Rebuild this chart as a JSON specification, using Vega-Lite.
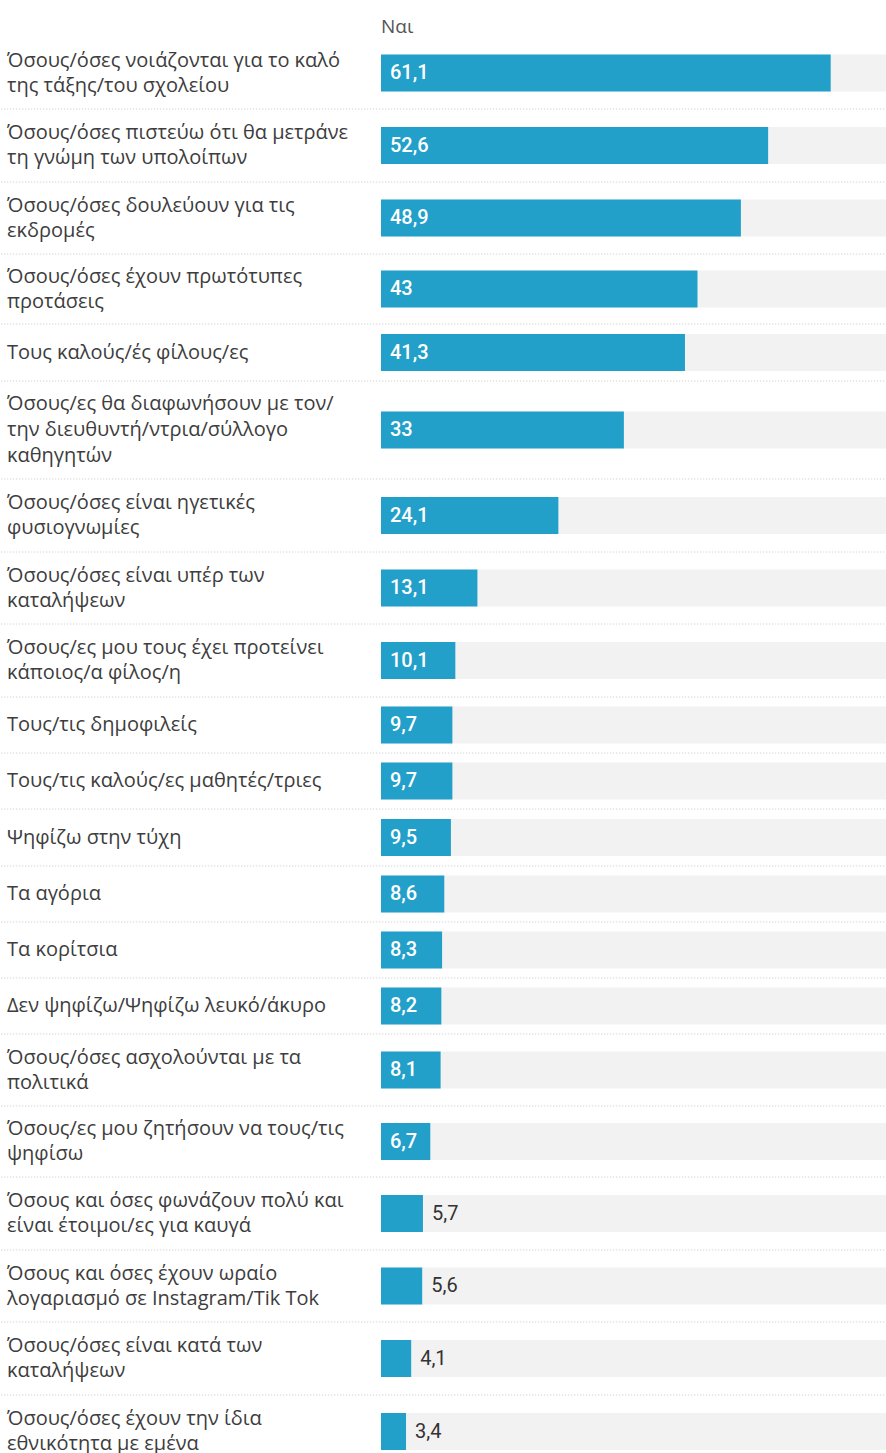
{
  "$schema": "https://vega.github.io/schema/vega-lite/v6.json",
  "padding": {"left": 0, "top": 17, "right": 0, "bottom": 0},
  "bounds": "flush",
  "spacing": 0,
  "title": {"text": "Ναι", "anchor": "start", "frame": "group", "fontSize": 19, "fontWeight": "normal", "color": "#555555", "font": "Open Sans", "offset": 0.5},
  "data": {"values": [
    {"label": "Όσους/όσες νοιάζονται για το καλό\nτης τάξης/του σχολείου", "value": 61.1},
    {"label": "Όσους/όσες πιστεύω ότι θα μετράνε\nτη γνώμη των υπολοίπων", "value": 52.6},
    {"label": "Όσους/όσες δουλεύουν για τις\nεκδρομές", "value": 48.9},
    {"label": "Όσους/όσες έχουν πρωτότυπες\nπροτάσεις", "value": 43},
    {"label": "Τους καλούς/ές φίλους/ες", "value": 41.3},
    {"label": "Όσους/ες θα διαφωνήσουν με τον/\nτην διευθυντή/ντρια/σύλλογο\nκαθηγητών", "value": 33},
    {"label": "Όσους/όσες είναι ηγετικές\nφυσιογνωμίες", "value": 24.1},
    {"label": "Όσους/όσες είναι υπέρ των\nκαταλήψεων", "value": 13.1},
    {"label": "Όσους/ες μου τους έχει προτείνει\nκάποιος/α φίλος/η", "value": 10.1},
    {"label": "Τους/τις δημοφιλείς", "value": 9.7},
    {"label": "Τους/τις καλούς/ες μαθητές/τριες", "value": 9.7},
    {"label": "Ψηφίζω στην τύχη", "value": 9.5},
    {"label": "Τα αγόρια", "value": 8.6},
    {"label": "Τα κορίτσια", "value": 8.3},
    {"label": "Δεν ψηφίζω/Ψηφίζω λευκό/άκυρο", "value": 8.2},
    {"label": "Όσους/όσες ασχολούνται με τα\nπολιτικά", "value": 8.1},
    {"label": "Όσους/ες μου ζητήσουν να τους/τις\nψηφίσω", "value": 6.7},
    {"label": "Όσους και όσες φωνάζουν πολύ και\nείναι έτοιμοι/ες για καυγά", "value": 5.7},
    {"label": "Όσους και όσες έχουν ωραίο\nλογαριασμό σε Instagram/Tik Tok", "value": 5.6},
    {"label": "Όσους/όσες είναι κατά των\nκαταλήψεων", "value": 4.1},
    {"label": "Όσους/όσες έχουν την ίδια\nεθνικότητα με εμένα", "value": 3.4}
  ]},
  "vconcat": [
    {"height": 72, "width": 506, "transform": [{"filter": {"field": "label", "equal": "Όσους/όσες νοιάζονται για το καλό\nτης τάξης/του σχολείου"}}],
     "encoding": {"y": {"field": "label", "type": "nominal", "scale": {"paddingInner": 0, "paddingOuter": 0}}},
     "layer": [
      {"mark": {"type": "bar", "height": 37, "color": "#f2f2f2"}, "encoding": {"x": {"datum": 68.75, "type": "quantitative", "scale": {"domain": [0, 68.75], "nice": false}}}},
      {"mark": {"type": "bar", "height": 37, "color": "#22a0ca"}, "encoding": {"x": {"field": "value", "type": "quantitative"}}},
      {"transform": [{"filter": "datum.value >= 6"}], "mark": {"type": "text", "align": "left", "dx": 9, "fontSize": 20, "fontWeight": 500, "color": "#ffffff"}, "encoding": {"x": {"datum": 0, "type": "quantitative"}, "text": {"field": "value", "type": "quantitative", "format": "~g"}}},
      {"transform": [{"filter": "datum.value < 6"}], "mark": {"type": "text", "align": "left", "dx": 9, "fontSize": 20, "color": "#333333"}, "encoding": {"x": {"field": "value", "type": "quantitative"}, "text": {"field": "value", "type": "quantitative", "format": "~g"}}},
      {"mark": {"type": "text", "align": "left", "dx": -374, "dy": -12.5, "font": "Open Sans", "fontSize": 20, "lineHeight": 25, "lineBreak": "\n", "color": "#3d3d3d"}, "encoding": {"x": {"datum": 0, "type": "quantitative"}, "text": {"field": "label"}}},
      {"mark": {"type": "rule", "color": "#c8c8c8", "strokeDash": [1, 2], "strokeWidth": 1}, "encoding": {"x": {"datum": -51.6, "type": "quantitative"}, "x2": {"datum": 68.75}, "y": {"field": "label", "type": "nominal", "bandPosition": 1}}}
     ]},
    {"height": 73, "width": 506, "transform": [{"filter": {"field": "label", "equal": "Όσους/όσες πιστεύω ότι θα μετράνε\nτη γνώμη των υπολοίπων"}}],
     "encoding": {"y": {"field": "label", "type": "nominal", "scale": {"paddingInner": 0, "paddingOuter": 0}}},
     "layer": [
      {"mark": {"type": "bar", "height": 37, "color": "#f2f2f2"}, "encoding": {"x": {"datum": 68.75, "type": "quantitative", "scale": {"domain": [0, 68.75], "nice": false}}}},
      {"mark": {"type": "bar", "height": 37, "color": "#22a0ca"}, "encoding": {"x": {"field": "value", "type": "quantitative"}}},
      {"transform": [{"filter": "datum.value >= 6"}], "mark": {"type": "text", "align": "left", "dx": 9, "fontSize": 20, "fontWeight": 500, "color": "#ffffff"}, "encoding": {"x": {"datum": 0, "type": "quantitative"}, "text": {"field": "value", "type": "quantitative", "format": "~g"}}},
      {"transform": [{"filter": "datum.value < 6"}], "mark": {"type": "text", "align": "left", "dx": 9, "fontSize": 20, "color": "#333333"}, "encoding": {"x": {"field": "value", "type": "quantitative"}, "text": {"field": "value", "type": "quantitative", "format": "~g"}}},
      {"mark": {"type": "text", "align": "left", "dx": -374, "dy": -12.5, "font": "Open Sans", "fontSize": 20, "lineHeight": 25, "lineBreak": "\n", "color": "#3d3d3d"}, "encoding": {"x": {"datum": 0, "type": "quantitative"}, "text": {"field": "label"}}},
      {"mark": {"type": "rule", "color": "#c8c8c8", "strokeDash": [1, 2], "strokeWidth": 1}, "encoding": {"x": {"datum": -51.6, "type": "quantitative"}, "x2": {"datum": 68.75}, "y": {"field": "label", "type": "nominal", "bandPosition": 1}}}
     ]},
    {"height": 72, "width": 506, "transform": [{"filter": {"field": "label", "equal": "Όσους/όσες δουλεύουν για τις\nεκδρομές"}}],
     "encoding": {"y": {"field": "label", "type": "nominal", "scale": {"paddingInner": 0, "paddingOuter": 0}}},
     "layer": [
      {"mark": {"type": "bar", "height": 37, "color": "#f2f2f2"}, "encoding": {"x": {"datum": 68.75, "type": "quantitative", "scale": {"domain": [0, 68.75], "nice": false}}}},
      {"mark": {"type": "bar", "height": 37, "color": "#22a0ca"}, "encoding": {"x": {"field": "value", "type": "quantitative"}}},
      {"transform": [{"filter": "datum.value >= 6"}], "mark": {"type": "text", "align": "left", "dx": 9, "fontSize": 20, "fontWeight": 500, "color": "#ffffff"}, "encoding": {"x": {"datum": 0, "type": "quantitative"}, "text": {"field": "value", "type": "quantitative", "format": "~g"}}},
      {"transform": [{"filter": "datum.value < 6"}], "mark": {"type": "text", "align": "left", "dx": 9, "fontSize": 20, "color": "#333333"}, "encoding": {"x": {"field": "value", "type": "quantitative"}, "text": {"field": "value", "type": "quantitative", "format": "~g"}}},
      {"mark": {"type": "text", "align": "left", "dx": -374, "dy": -12.5, "font": "Open Sans", "fontSize": 20, "lineHeight": 25, "lineBreak": "\n", "color": "#3d3d3d"}, "encoding": {"x": {"datum": 0, "type": "quantitative"}, "text": {"field": "label"}}},
      {"mark": {"type": "rule", "color": "#c8c8c8", "strokeDash": [1, 2], "strokeWidth": 1}, "encoding": {"x": {"datum": -51.6, "type": "quantitative"}, "x2": {"datum": 68.75}, "y": {"field": "label", "type": "nominal", "bandPosition": 1}}}
     ]},
    {"height": 70, "width": 506, "transform": [{"filter": {"field": "label", "equal": "Όσους/όσες έχουν πρωτότυπες\nπροτάσεις"}}],
     "encoding": {"y": {"field": "label", "type": "nominal", "scale": {"paddingInner": 0, "paddingOuter": 0}}},
     "layer": [
      {"mark": {"type": "bar", "height": 37, "color": "#f2f2f2"}, "encoding": {"x": {"datum": 68.75, "type": "quantitative", "scale": {"domain": [0, 68.75], "nice": false}}}},
      {"mark": {"type": "bar", "height": 37, "color": "#22a0ca"}, "encoding": {"x": {"field": "value", "type": "quantitative"}}},
      {"transform": [{"filter": "datum.value >= 6"}], "mark": {"type": "text", "align": "left", "dx": 9, "fontSize": 20, "fontWeight": 500, "color": "#ffffff"}, "encoding": {"x": {"datum": 0, "type": "quantitative"}, "text": {"field": "value", "type": "quantitative", "format": "~g"}}},
      {"transform": [{"filter": "datum.value < 6"}], "mark": {"type": "text", "align": "left", "dx": 9, "fontSize": 20, "color": "#333333"}, "encoding": {"x": {"field": "value", "type": "quantitative"}, "text": {"field": "value", "type": "quantitative", "format": "~g"}}},
      {"mark": {"type": "text", "align": "left", "dx": -374, "dy": -12.5, "font": "Open Sans", "fontSize": 20, "lineHeight": 25, "lineBreak": "\n", "color": "#3d3d3d"}, "encoding": {"x": {"datum": 0, "type": "quantitative"}, "text": {"field": "label"}}},
      {"mark": {"type": "rule", "color": "#c8c8c8", "strokeDash": [1, 2], "strokeWidth": 1}, "encoding": {"x": {"datum": -51.6, "type": "quantitative"}, "x2": {"datum": 68.75}, "y": {"field": "label", "type": "nominal", "bandPosition": 1}}}
     ]},
    {"height": 57, "width": 506, "transform": [{"filter": {"field": "label", "equal": "Τους καλούς/ές φίλους/ες"}}],
     "encoding": {"y": {"field": "label", "type": "nominal", "scale": {"paddingInner": 0, "paddingOuter": 0}}},
     "layer": [
      {"mark": {"type": "bar", "height": 37, "color": "#f2f2f2"}, "encoding": {"x": {"datum": 68.75, "type": "quantitative", "scale": {"domain": [0, 68.75], "nice": false}}}},
      {"mark": {"type": "bar", "height": 37, "color": "#22a0ca"}, "encoding": {"x": {"field": "value", "type": "quantitative"}}},
      {"transform": [{"filter": "datum.value >= 6"}], "mark": {"type": "text", "align": "left", "dx": 9, "fontSize": 20, "fontWeight": 500, "color": "#ffffff"}, "encoding": {"x": {"datum": 0, "type": "quantitative"}, "text": {"field": "value", "type": "quantitative", "format": "~g"}}},
      {"transform": [{"filter": "datum.value < 6"}], "mark": {"type": "text", "align": "left", "dx": 9, "fontSize": 20, "color": "#333333"}, "encoding": {"x": {"field": "value", "type": "quantitative"}, "text": {"field": "value", "type": "quantitative", "format": "~g"}}},
      {"mark": {"type": "text", "align": "left", "dx": -374, "font": "Open Sans", "fontSize": 20, "lineHeight": 25, "lineBreak": "\n", "color": "#3d3d3d"}, "encoding": {"x": {"datum": 0, "type": "quantitative"}, "text": {"field": "label"}}},
      {"mark": {"type": "rule", "color": "#c8c8c8", "strokeDash": [1, 2], "strokeWidth": 1}, "encoding": {"x": {"datum": -51.6, "type": "quantitative"}, "x2": {"datum": 68.75}, "y": {"field": "label", "type": "nominal", "bandPosition": 1}}}
     ]},
    {"height": 98, "width": 506, "transform": [{"filter": {"field": "label", "equal": "Όσους/ες θα διαφωνήσουν με τον/\nτην διευθυντή/ντρια/σύλλογο\nκαθηγητών"}}],
     "encoding": {"y": {"field": "label", "type": "nominal", "scale": {"paddingInner": 0, "paddingOuter": 0}}},
     "layer": [
      {"mark": {"type": "bar", "height": 37, "color": "#f2f2f2"}, "encoding": {"x": {"datum": 68.75, "type": "quantitative", "scale": {"domain": [0, 68.75], "nice": false}}}},
      {"mark": {"type": "bar", "height": 37, "color": "#22a0ca"}, "encoding": {"x": {"field": "value", "type": "quantitative"}}},
      {"transform": [{"filter": "datum.value >= 6"}], "mark": {"type": "text", "align": "left", "dx": 9, "fontSize": 20, "fontWeight": 500, "color": "#ffffff"}, "encoding": {"x": {"datum": 0, "type": "quantitative"}, "text": {"field": "value", "type": "quantitative", "format": "~g"}}},
      {"transform": [{"filter": "datum.value < 6"}], "mark": {"type": "text", "align": "left", "dx": 9, "fontSize": 20, "color": "#333333"}, "encoding": {"x": {"field": "value", "type": "quantitative"}, "text": {"field": "value", "type": "quantitative", "format": "~g"}}},
      {"mark": {"type": "text", "align": "left", "dx": -374, "dy": -26, "font": "Open Sans", "fontSize": 20, "lineHeight": 26, "lineBreak": "\n", "color": "#3d3d3d"}, "encoding": {"x": {"datum": 0, "type": "quantitative"}, "text": {"field": "label"}}},
      {"mark": {"type": "rule", "color": "#c8c8c8", "strokeDash": [1, 2], "strokeWidth": 1}, "encoding": {"x": {"datum": -51.6, "type": "quantitative"}, "x2": {"datum": 68.75}, "y": {"field": "label", "type": "nominal", "bandPosition": 1}}}
     ]},
    {"height": 73, "width": 506, "transform": [{"filter": {"field": "label", "equal": "Όσους/όσες είναι ηγετικές\nφυσιογνωμίες"}}],
     "encoding": {"y": {"field": "label", "type": "nominal", "scale": {"paddingInner": 0, "paddingOuter": 0}}},
     "layer": [
      {"mark": {"type": "bar", "height": 37, "color": "#f2f2f2"}, "encoding": {"x": {"datum": 68.75, "type": "quantitative", "scale": {"domain": [0, 68.75], "nice": false}}}},
      {"mark": {"type": "bar", "height": 37, "color": "#22a0ca"}, "encoding": {"x": {"field": "value", "type": "quantitative"}}},
      {"transform": [{"filter": "datum.value >= 6"}], "mark": {"type": "text", "align": "left", "dx": 9, "fontSize": 20, "fontWeight": 500, "color": "#ffffff"}, "encoding": {"x": {"datum": 0, "type": "quantitative"}, "text": {"field": "value", "type": "quantitative", "format": "~g"}}},
      {"transform": [{"filter": "datum.value < 6"}], "mark": {"type": "text", "align": "left", "dx": 9, "fontSize": 20, "color": "#333333"}, "encoding": {"x": {"field": "value", "type": "quantitative"}, "text": {"field": "value", "type": "quantitative", "format": "~g"}}},
      {"mark": {"type": "text", "align": "left", "dx": -374, "dy": -12.5, "font": "Open Sans", "fontSize": 20, "lineHeight": 25, "lineBreak": "\n", "color": "#3d3d3d"}, "encoding": {"x": {"datum": 0, "type": "quantitative"}, "text": {"field": "label"}}},
      {"mark": {"type": "rule", "color": "#c8c8c8", "strokeDash": [1, 2], "strokeWidth": 1}, "encoding": {"x": {"datum": -51.6, "type": "quantitative"}, "x2": {"datum": 68.75}, "y": {"field": "label", "type": "nominal", "bandPosition": 1}}}
     ]},
    {"height": 72, "width": 506, "transform": [{"filter": {"field": "label", "equal": "Όσους/όσες είναι υπέρ των\nκαταλήψεων"}}],
     "encoding": {"y": {"field": "label", "type": "nominal", "scale": {"paddingInner": 0, "paddingOuter": 0}}},
     "layer": [
      {"mark": {"type": "bar", "height": 37, "color": "#f2f2f2"}, "encoding": {"x": {"datum": 68.75, "type": "quantitative", "scale": {"domain": [0, 68.75], "nice": false}}}},
      {"mark": {"type": "bar", "height": 37, "color": "#22a0ca"}, "encoding": {"x": {"field": "value", "type": "quantitative"}}},
      {"transform": [{"filter": "datum.value >= 6"}], "mark": {"type": "text", "align": "left", "dx": 9, "fontSize": 20, "fontWeight": 500, "color": "#ffffff"}, "encoding": {"x": {"datum": 0, "type": "quantitative"}, "text": {"field": "value", "type": "quantitative", "format": "~g"}}},
      {"transform": [{"filter": "datum.value < 6"}], "mark": {"type": "text", "align": "left", "dx": 9, "fontSize": 20, "color": "#333333"}, "encoding": {"x": {"field": "value", "type": "quantitative"}, "text": {"field": "value", "type": "quantitative", "format": "~g"}}},
      {"mark": {"type": "text", "align": "left", "dx": -374, "dy": -12.5, "font": "Open Sans", "fontSize": 20, "lineHeight": 25, "lineBreak": "\n", "color": "#3d3d3d"}, "encoding": {"x": {"datum": 0, "type": "quantitative"}, "text": {"field": "label"}}},
      {"mark": {"type": "rule", "color": "#c8c8c8", "strokeDash": [1, 2], "strokeWidth": 1}, "encoding": {"x": {"datum": -51.6, "type": "quantitative"}, "x2": {"datum": 68.75}, "y": {"field": "label", "type": "nominal", "bandPosition": 1}}}
     ]},
    {"height": 73, "width": 506, "transform": [{"filter": {"field": "label", "equal": "Όσους/ες μου τους έχει προτείνει\nκάποιος/α φίλος/η"}}],
     "encoding": {"y": {"field": "label", "type": "nominal", "scale": {"paddingInner": 0, "paddingOuter": 0}}},
     "layer": [
      {"mark": {"type": "bar", "height": 37, "color": "#f2f2f2"}, "encoding": {"x": {"datum": 68.75, "type": "quantitative", "scale": {"domain": [0, 68.75], "nice": false}}}},
      {"mark": {"type": "bar", "height": 37, "color": "#22a0ca"}, "encoding": {"x": {"field": "value", "type": "quantitative"}}},
      {"transform": [{"filter": "datum.value >= 6"}], "mark": {"type": "text", "align": "left", "dx": 9, "fontSize": 20, "fontWeight": 500, "color": "#ffffff"}, "encoding": {"x": {"datum": 0, "type": "quantitative"}, "text": {"field": "value", "type": "quantitative", "format": "~g"}}},
      {"transform": [{"filter": "datum.value < 6"}], "mark": {"type": "text", "align": "left", "dx": 9, "fontSize": 20, "color": "#333333"}, "encoding": {"x": {"field": "value", "type": "quantitative"}, "text": {"field": "value", "type": "quantitative", "format": "~g"}}},
      {"mark": {"type": "text", "align": "left", "dx": -374, "dy": -12.5, "font": "Open Sans", "fontSize": 20, "lineHeight": 25, "lineBreak": "\n", "color": "#3d3d3d"}, "encoding": {"x": {"datum": 0, "type": "quantitative"}, "text": {"field": "label"}}},
      {"mark": {"type": "rule", "color": "#c8c8c8", "strokeDash": [1, 2], "strokeWidth": 1}, "encoding": {"x": {"datum": -51.6, "type": "quantitative"}, "x2": {"datum": 68.75}, "y": {"field": "label", "type": "nominal", "bandPosition": 1}}}
     ]},
    {"height": 56, "width": 506, "transform": [{"filter": {"field": "label", "equal": "Τους/τις δημοφιλείς"}}],
     "encoding": {"y": {"field": "label", "type": "nominal", "scale": {"paddingInner": 0, "paddingOuter": 0}}},
     "layer": [
      {"mark": {"type": "bar", "height": 37, "color": "#f2f2f2"}, "encoding": {"x": {"datum": 68.75, "type": "quantitative", "scale": {"domain": [0, 68.75], "nice": false}}}},
      {"mark": {"type": "bar", "height": 37, "color": "#22a0ca"}, "encoding": {"x": {"field": "value", "type": "quantitative"}}},
      {"transform": [{"filter": "datum.value >= 6"}], "mark": {"type": "text", "align": "left", "dx": 9, "fontSize": 20, "fontWeight": 500, "color": "#ffffff"}, "encoding": {"x": {"datum": 0, "type": "quantitative"}, "text": {"field": "value", "type": "quantitative", "format": "~g"}}},
      {"transform": [{"filter": "datum.value < 6"}], "mark": {"type": "text", "align": "left", "dx": 9, "fontSize": 20, "color": "#333333"}, "encoding": {"x": {"field": "value", "type": "quantitative"}, "text": {"field": "value", "type": "quantitative", "format": "~g"}}},
      {"mark": {"type": "text", "align": "left", "dx": -374, "font": "Open Sans", "fontSize": 20, "lineHeight": 25, "lineBreak": "\n", "color": "#3d3d3d"}, "encoding": {"x": {"datum": 0, "type": "quantitative"}, "text": {"field": "label"}}},
      {"mark": {"type": "rule", "color": "#c8c8c8", "strokeDash": [1, 2], "strokeWidth": 1}, "encoding": {"x": {"datum": -51.6, "type": "quantitative"}, "x2": {"datum": 68.75}, "y": {"field": "label", "type": "nominal", "bandPosition": 1}}}
     ]},
    {"height": 56, "width": 506, "transform": [{"filter": {"field": "label", "equal": "Τους/τις καλούς/ες μαθητές/τριες"}}],
     "encoding": {"y": {"field": "label", "type": "nominal", "scale": {"paddingInner": 0, "paddingOuter": 0}}},
     "layer": [
      {"mark": {"type": "bar", "height": 37, "color": "#f2f2f2"}, "encoding": {"x": {"datum": 68.75, "type": "quantitative", "scale": {"domain": [0, 68.75], "nice": false}}}},
      {"mark": {"type": "bar", "height": 37, "color": "#22a0ca"}, "encoding": {"x": {"field": "value", "type": "quantitative"}}},
      {"transform": [{"filter": "datum.value >= 6"}], "mark": {"type": "text", "align": "left", "dx": 9, "fontSize": 20, "fontWeight": 500, "color": "#ffffff"}, "encoding": {"x": {"datum": 0, "type": "quantitative"}, "text": {"field": "value", "type": "quantitative", "format": "~g"}}},
      {"transform": [{"filter": "datum.value < 6"}], "mark": {"type": "text", "align": "left", "dx": 9, "fontSize": 20, "color": "#333333"}, "encoding": {"x": {"field": "value", "type": "quantitative"}, "text": {"field": "value", "type": "quantitative", "format": "~g"}}},
      {"mark": {"type": "text", "align": "left", "dx": -374, "font": "Open Sans", "fontSize": 20, "lineHeight": 25, "lineBreak": "\n", "color": "#3d3d3d"}, "encoding": {"x": {"datum": 0, "type": "quantitative"}, "text": {"field": "label"}}},
      {"mark": {"type": "rule", "color": "#c8c8c8", "strokeDash": [1, 2], "strokeWidth": 1}, "encoding": {"x": {"datum": -51.6, "type": "quantitative"}, "x2": {"datum": 68.75}, "y": {"field": "label", "type": "nominal", "bandPosition": 1}}}
     ]},
    {"height": 57, "width": 506, "transform": [{"filter": {"field": "label", "equal": "Ψηφίζω στην τύχη"}}],
     "encoding": {"y": {"field": "label", "type": "nominal", "scale": {"paddingInner": 0, "paddingOuter": 0}}},
     "layer": [
      {"mark": {"type": "bar", "height": 37, "color": "#f2f2f2"}, "encoding": {"x": {"datum": 68.75, "type": "quantitative", "scale": {"domain": [0, 68.75], "nice": false}}}},
      {"mark": {"type": "bar", "height": 37, "color": "#22a0ca"}, "encoding": {"x": {"field": "value", "type": "quantitative"}}},
      {"transform": [{"filter": "datum.value >= 6"}], "mark": {"type": "text", "align": "left", "dx": 9, "fontSize": 20, "fontWeight": 500, "color": "#ffffff"}, "encoding": {"x": {"datum": 0, "type": "quantitative"}, "text": {"field": "value", "type": "quantitative", "format": "~g"}}},
      {"transform": [{"filter": "datum.value < 6"}], "mark": {"type": "text", "align": "left", "dx": 9, "fontSize": 20, "color": "#333333"}, "encoding": {"x": {"field": "value", "type": "quantitative"}, "text": {"field": "value", "type": "quantitative", "format": "~g"}}},
      {"mark": {"type": "text", "align": "left", "dx": -374, "font": "Open Sans", "fontSize": 20, "lineHeight": 25, "lineBreak": "\n", "color": "#3d3d3d"}, "encoding": {"x": {"datum": 0, "type": "quantitative"}, "text": {"field": "label"}}},
      {"mark": {"type": "rule", "color": "#c8c8c8", "strokeDash": [1, 2], "strokeWidth": 1}, "encoding": {"x": {"datum": -51.6, "type": "quantitative"}, "x2": {"datum": 68.75}, "y": {"field": "label", "type": "nominal", "bandPosition": 1}}}
     ]},
    {"height": 56, "width": 506, "transform": [{"filter": {"field": "label", "equal": "Τα αγόρια"}}],
     "encoding": {"y": {"field": "label", "type": "nominal", "scale": {"paddingInner": 0, "paddingOuter": 0}}},
     "layer": [
      {"mark": {"type": "bar", "height": 37, "color": "#f2f2f2"}, "encoding": {"x": {"datum": 68.75, "type": "quantitative", "scale": {"domain": [0, 68.75], "nice": false}}}},
      {"mark": {"type": "bar", "height": 37, "color": "#22a0ca"}, "encoding": {"x": {"field": "value", "type": "quantitative"}}},
      {"transform": [{"filter": "datum.value >= 6"}], "mark": {"type": "text", "align": "left", "dx": 9, "fontSize": 20, "fontWeight": 500, "color": "#ffffff"}, "encoding": {"x": {"datum": 0, "type": "quantitative"}, "text": {"field": "value", "type": "quantitative", "format": "~g"}}},
      {"transform": [{"filter": "datum.value < 6"}], "mark": {"type": "text", "align": "left", "dx": 9, "fontSize": 20, "color": "#333333"}, "encoding": {"x": {"field": "value", "type": "quantitative"}, "text": {"field": "value", "type": "quantitative", "format": "~g"}}},
      {"mark": {"type": "text", "align": "left", "dx": -374, "font": "Open Sans", "fontSize": 20, "lineHeight": 25, "lineBreak": "\n", "color": "#3d3d3d"}, "encoding": {"x": {"datum": 0, "type": "quantitative"}, "text": {"field": "label"}}},
      {"mark": {"type": "rule", "color": "#c8c8c8", "strokeDash": [1, 2], "strokeWidth": 1}, "encoding": {"x": {"datum": -51.6, "type": "quantitative"}, "x2": {"datum": 68.75}, "y": {"field": "label", "type": "nominal", "bandPosition": 1}}}
     ]},
    {"height": 56, "width": 506, "transform": [{"filter": {"field": "label", "equal": "Τα κορίτσια"}}],
     "encoding": {"y": {"field": "label", "type": "nominal", "scale": {"paddingInner": 0, "paddingOuter": 0}}},
     "layer": [
      {"mark": {"type": "bar", "height": 37, "color": "#f2f2f2"}, "encoding": {"x": {"datum": 68.75, "type": "quantitative", "scale": {"domain": [0, 68.75], "nice": false}}}},
      {"mark": {"type": "bar", "height": 37, "color": "#22a0ca"}, "encoding": {"x": {"field": "value", "type": "quantitative"}}},
      {"transform": [{"filter": "datum.value >= 6"}], "mark": {"type": "text", "align": "left", "dx": 9, "fontSize": 20, "fontWeight": 500, "color": "#ffffff"}, "encoding": {"x": {"datum": 0, "type": "quantitative"}, "text": {"field": "value", "type": "quantitative", "format": "~g"}}},
      {"transform": [{"filter": "datum.value < 6"}], "mark": {"type": "text", "align": "left", "dx": 9, "fontSize": 20, "color": "#333333"}, "encoding": {"x": {"field": "value", "type": "quantitative"}, "text": {"field": "value", "type": "quantitative", "format": "~g"}}},
      {"mark": {"type": "text", "align": "left", "dx": -374, "font": "Open Sans", "fontSize": 20, "lineHeight": 25, "lineBreak": "\n", "color": "#3d3d3d"}, "encoding": {"x": {"datum": 0, "type": "quantitative"}, "text": {"field": "label"}}},
      {"mark": {"type": "rule", "color": "#c8c8c8", "strokeDash": [1, 2], "strokeWidth": 1}, "encoding": {"x": {"datum": -51.6, "type": "quantitative"}, "x2": {"datum": 68.75}, "y": {"field": "label", "type": "nominal", "bandPosition": 1}}}
     ]},
    {"height": 56, "width": 506, "transform": [{"filter": {"field": "label", "equal": "Δεν ψηφίζω/Ψηφίζω λευκό/άκυρο"}}],
     "encoding": {"y": {"field": "label", "type": "nominal", "scale": {"paddingInner": 0, "paddingOuter": 0}}},
     "layer": [
      {"mark": {"type": "bar", "height": 37, "color": "#f2f2f2"}, "encoding": {"x": {"datum": 68.75, "type": "quantitative", "scale": {"domain": [0, 68.75], "nice": false}}}},
      {"mark": {"type": "bar", "height": 37, "color": "#22a0ca"}, "encoding": {"x": {"field": "value", "type": "quantitative"}}},
      {"transform": [{"filter": "datum.value >= 6"}], "mark": {"type": "text", "align": "left", "dx": 9, "fontSize": 20, "fontWeight": 500, "color": "#ffffff"}, "encoding": {"x": {"datum": 0, "type": "quantitative"}, "text": {"field": "value", "type": "quantitative", "format": "~g"}}},
      {"transform": [{"filter": "datum.value < 6"}], "mark": {"type": "text", "align": "left", "dx": 9, "fontSize": 20, "color": "#333333"}, "encoding": {"x": {"field": "value", "type": "quantitative"}, "text": {"field": "value", "type": "quantitative", "format": "~g"}}},
      {"mark": {"type": "text", "align": "left", "dx": -374, "font": "Open Sans", "fontSize": 20, "lineHeight": 25, "lineBreak": "\n", "color": "#3d3d3d"}, "encoding": {"x": {"datum": 0, "type": "quantitative"}, "text": {"field": "label"}}},
      {"mark": {"type": "rule", "color": "#c8c8c8", "strokeDash": [1, 2], "strokeWidth": 1}, "encoding": {"x": {"datum": -51.6, "type": "quantitative"}, "x2": {"datum": 68.75}, "y": {"field": "label", "type": "nominal", "bandPosition": 1}}}
     ]},
    {"height": 72, "width": 506, "transform": [{"filter": {"field": "label", "equal": "Όσους/όσες ασχολούνται με τα\nπολιτικά"}}],
     "encoding": {"y": {"field": "label", "type": "nominal", "scale": {"paddingInner": 0, "paddingOuter": 0}}},
     "layer": [
      {"mark": {"type": "bar", "height": 37, "color": "#f2f2f2"}, "encoding": {"x": {"datum": 68.75, "type": "quantitative", "scale": {"domain": [0, 68.75], "nice": false}}}},
      {"mark": {"type": "bar", "height": 37, "color": "#22a0ca"}, "encoding": {"x": {"field": "value", "type": "quantitative"}}},
      {"transform": [{"filter": "datum.value >= 6"}], "mark": {"type": "text", "align": "left", "dx": 9, "fontSize": 20, "fontWeight": 500, "color": "#ffffff"}, "encoding": {"x": {"datum": 0, "type": "quantitative"}, "text": {"field": "value", "type": "quantitative", "format": "~g"}}},
      {"transform": [{"filter": "datum.value < 6"}], "mark": {"type": "text", "align": "left", "dx": 9, "fontSize": 20, "color": "#333333"}, "encoding": {"x": {"field": "value", "type": "quantitative"}, "text": {"field": "value", "type": "quantitative", "format": "~g"}}},
      {"mark": {"type": "text", "align": "left", "dx": -374, "dy": -12.5, "font": "Open Sans", "fontSize": 20, "lineHeight": 25, "lineBreak": "\n", "color": "#3d3d3d"}, "encoding": {"x": {"datum": 0, "type": "quantitative"}, "text": {"field": "label"}}},
      {"mark": {"type": "rule", "color": "#c8c8c8", "strokeDash": [1, 2], "strokeWidth": 1}, "encoding": {"x": {"datum": -51.6, "type": "quantitative"}, "x2": {"datum": 68.75}, "y": {"field": "label", "type": "nominal", "bandPosition": 1}}}
     ]},
    {"height": 71, "width": 506, "transform": [{"filter": {"field": "label", "equal": "Όσους/ες μου ζητήσουν να τους/τις\nψηφίσω"}}],
     "encoding": {"y": {"field": "label", "type": "nominal", "scale": {"paddingInner": 0, "paddingOuter": 0}}},
     "layer": [
      {"mark": {"type": "bar", "height": 37, "color": "#f2f2f2"}, "encoding": {"x": {"datum": 68.75, "type": "quantitative", "scale": {"domain": [0, 68.75], "nice": false}}}},
      {"mark": {"type": "bar", "height": 37, "color": "#22a0ca"}, "encoding": {"x": {"field": "value", "type": "quantitative"}}},
      {"transform": [{"filter": "datum.value >= 6"}], "mark": {"type": "text", "align": "left", "dx": 9, "fontSize": 20, "fontWeight": 500, "color": "#ffffff"}, "encoding": {"x": {"datum": 0, "type": "quantitative"}, "text": {"field": "value", "type": "quantitative", "format": "~g"}}},
      {"transform": [{"filter": "datum.value < 6"}], "mark": {"type": "text", "align": "left", "dx": 9, "fontSize": 20, "color": "#333333"}, "encoding": {"x": {"field": "value", "type": "quantitative"}, "text": {"field": "value", "type": "quantitative", "format": "~g"}}},
      {"mark": {"type": "text", "align": "left", "dx": -374, "dy": -12.5, "font": "Open Sans", "fontSize": 20, "lineHeight": 25, "lineBreak": "\n", "color": "#3d3d3d"}, "encoding": {"x": {"datum": 0, "type": "quantitative"}, "text": {"field": "label"}}},
      {"mark": {"type": "rule", "color": "#c8c8c8", "strokeDash": [1, 2], "strokeWidth": 1}, "encoding": {"x": {"datum": -51.6, "type": "quantitative"}, "x2": {"datum": 68.75}, "y": {"field": "label", "type": "nominal", "bandPosition": 1}}}
     ]},
    {"height": 73, "width": 506, "transform": [{"filter": {"field": "label", "equal": "Όσους και όσες φωνάζουν πολύ και\nείναι έτοιμοι/ες για καυγά"}}],
     "encoding": {"y": {"field": "label", "type": "nominal", "scale": {"paddingInner": 0, "paddingOuter": 0}}},
     "layer": [
      {"mark": {"type": "bar", "height": 37, "color": "#f2f2f2"}, "encoding": {"x": {"datum": 68.75, "type": "quantitative", "scale": {"domain": [0, 68.75], "nice": false}}}},
      {"mark": {"type": "bar", "height": 37, "color": "#22a0ca"}, "encoding": {"x": {"field": "value", "type": "quantitative"}}},
      {"transform": [{"filter": "datum.value >= 6"}], "mark": {"type": "text", "align": "left", "dx": 9, "fontSize": 20, "fontWeight": 500, "color": "#ffffff"}, "encoding": {"x": {"datum": 0, "type": "quantitative"}, "text": {"field": "value", "type": "quantitative", "format": "~g"}}},
      {"transform": [{"filter": "datum.value < 6"}], "mark": {"type": "text", "align": "left", "dx": 9, "fontSize": 20, "color": "#333333"}, "encoding": {"x": {"field": "value", "type": "quantitative"}, "text": {"field": "value", "type": "quantitative", "format": "~g"}}},
      {"mark": {"type": "text", "align": "left", "dx": -374, "dy": -12.5, "font": "Open Sans", "fontSize": 20, "lineHeight": 25, "lineBreak": "\n", "color": "#3d3d3d"}, "encoding": {"x": {"datum": 0, "type": "quantitative"}, "text": {"field": "label"}}},
      {"mark": {"type": "rule", "color": "#c8c8c8", "strokeDash": [1, 2], "strokeWidth": 1}, "encoding": {"x": {"datum": -51.6, "type": "quantitative"}, "x2": {"datum": 68.75}, "y": {"field": "label", "type": "nominal", "bandPosition": 1}}}
     ]},
    {"height": 72, "width": 506, "transform": [{"filter": {"field": "label", "equal": "Όσους και όσες έχουν ωραίο\nλογαριασμό σε Instagram/Tik Tok"}}],
     "encoding": {"y": {"field": "label", "type": "nominal", "scale": {"paddingInner": 0, "paddingOuter": 0}}},
     "layer": [
      {"mark": {"type": "bar", "height": 37, "color": "#f2f2f2"}, "encoding": {"x": {"datum": 68.75, "type": "quantitative", "scale": {"domain": [0, 68.75], "nice": false}}}},
      {"mark": {"type": "bar", "height": 37, "color": "#22a0ca"}, "encoding": {"x": {"field": "value", "type": "quantitative"}}},
      {"transform": [{"filter": "datum.value >= 6"}], "mark": {"type": "text", "align": "left", "dx": 9, "fontSize": 20, "fontWeight": 500, "color": "#ffffff"}, "encoding": {"x": {"datum": 0, "type": "quantitative"}, "text": {"field": "value", "type": "quantitative", "format": "~g"}}},
      {"transform": [{"filter": "datum.value < 6"}], "mark": {"type": "text", "align": "left", "dx": 9, "fontSize": 20, "color": "#333333"}, "encoding": {"x": {"field": "value", "type": "quantitative"}, "text": {"field": "value", "type": "quantitative", "format": "~g"}}},
      {"mark": {"type": "text", "align": "left", "dx": -374, "dy": -12.5, "font": "Open Sans", "fontSize": 20, "lineHeight": 25, "lineBreak": "\n", "color": "#3d3d3d"}, "encoding": {"x": {"datum": 0, "type": "quantitative"}, "text": {"field": "label"}}},
      {"mark": {"type": "rule", "color": "#c8c8c8", "strokeDash": [1, 2], "strokeWidth": 1}, "encoding": {"x": {"datum": -51.6, "type": "quantitative"}, "x2": {"datum": 68.75}, "y": {"field": "label", "type": "nominal", "bandPosition": 1}}}
     ]},
    {"height": 73, "width": 506, "transform": [{"filter": {"field": "label", "equal": "Όσους/όσες είναι κατά των\nκαταλήψεων"}}],
     "encoding": {"y": {"field": "label", "type": "nominal", "scale": {"paddingInner": 0, "paddingOuter": 0}}},
     "layer": [
      {"mark": {"type": "bar", "height": 37, "color": "#f2f2f2"}, "encoding": {"x": {"datum": 68.75, "type": "quantitative", "scale": {"domain": [0, 68.75], "nice": false}}}},
      {"mark": {"type": "bar", "height": 37, "color": "#22a0ca"}, "encoding": {"x": {"field": "value", "type": "quantitative"}}},
      {"transform": [{"filter": "datum.value >= 6"}], "mark": {"type": "text", "align": "left", "dx": 9, "fontSize": 20, "fontWeight": 500, "color": "#ffffff"}, "encoding": {"x": {"datum": 0, "type": "quantitative"}, "text": {"field": "value", "type": "quantitative", "format": "~g"}}},
      {"transform": [{"filter": "datum.value < 6"}], "mark": {"type": "text", "align": "left", "dx": 9, "fontSize": 20, "color": "#333333"}, "encoding": {"x": {"field": "value", "type": "quantitative"}, "text": {"field": "value", "type": "quantitative", "format": "~g"}}},
      {"mark": {"type": "text", "align": "left", "dx": -374, "dy": -12.5, "font": "Open Sans", "fontSize": 20, "lineHeight": 25, "lineBreak": "\n", "color": "#3d3d3d"}, "encoding": {"x": {"datum": 0, "type": "quantitative"}, "text": {"field": "label"}}},
      {"mark": {"type": "rule", "color": "#c8c8c8", "strokeDash": [1, 2], "strokeWidth": 1}, "encoding": {"x": {"datum": -51.6, "type": "quantitative"}, "x2": {"datum": 68.75}, "y": {"field": "label", "type": "nominal", "bandPosition": 1}}}
     ]},
    {"height": 73, "width": 506, "transform": [{"filter": {"field": "label", "equal": "Όσους/όσες έχουν την ίδια\nεθνικότητα με εμένα"}}],
     "encoding": {"y": {"field": "label", "type": "nominal", "scale": {"paddingInner": 0, "paddingOuter": 0}}},
     "layer": [
      {"mark": {"type": "bar", "height": 37, "color": "#f2f2f2"}, "encoding": {"x": {"datum": 68.75, "type": "quantitative", "scale": {"domain": [0, 68.75], "nice": false}}}},
      {"mark": {"type": "bar", "height": 37, "color": "#22a0ca"}, "encoding": {"x": {"field": "value", "type": "quantitative"}}},
      {"transform": [{"filter": "datum.value >= 6"}], "mark": {"type": "text", "align": "left", "dx": 9, "fontSize": 20, "fontWeight": 500, "color": "#ffffff"}, "encoding": {"x": {"datum": 0, "type": "quantitative"}, "text": {"field": "value", "type": "quantitative", "format": "~g"}}},
      {"transform": [{"filter": "datum.value < 6"}], "mark": {"type": "text", "align": "left", "dx": 9, "fontSize": 20, "color": "#333333"}, "encoding": {"x": {"field": "value", "type": "quantitative"}, "text": {"field": "value", "type": "quantitative", "format": "~g"}}},
      {"mark": {"type": "text", "align": "left", "dx": -374, "dy": -12.5, "font": "Open Sans", "fontSize": 20, "lineHeight": 25, "lineBreak": "\n", "color": "#3d3d3d"}, "encoding": {"x": {"datum": 0, "type": "quantitative"}, "text": {"field": "label"}}}
     ]}
  ],
  "config": {
    "view": {"stroke": null},
    "axis": {"disable": true},
    "text": {"font": "Roboto", "baseline": "middle"},
    "locale": {"number": {"decimal": ",", "thousands": ".", "grouping": [3], "currency": ["", " €"]}}
  }
}
